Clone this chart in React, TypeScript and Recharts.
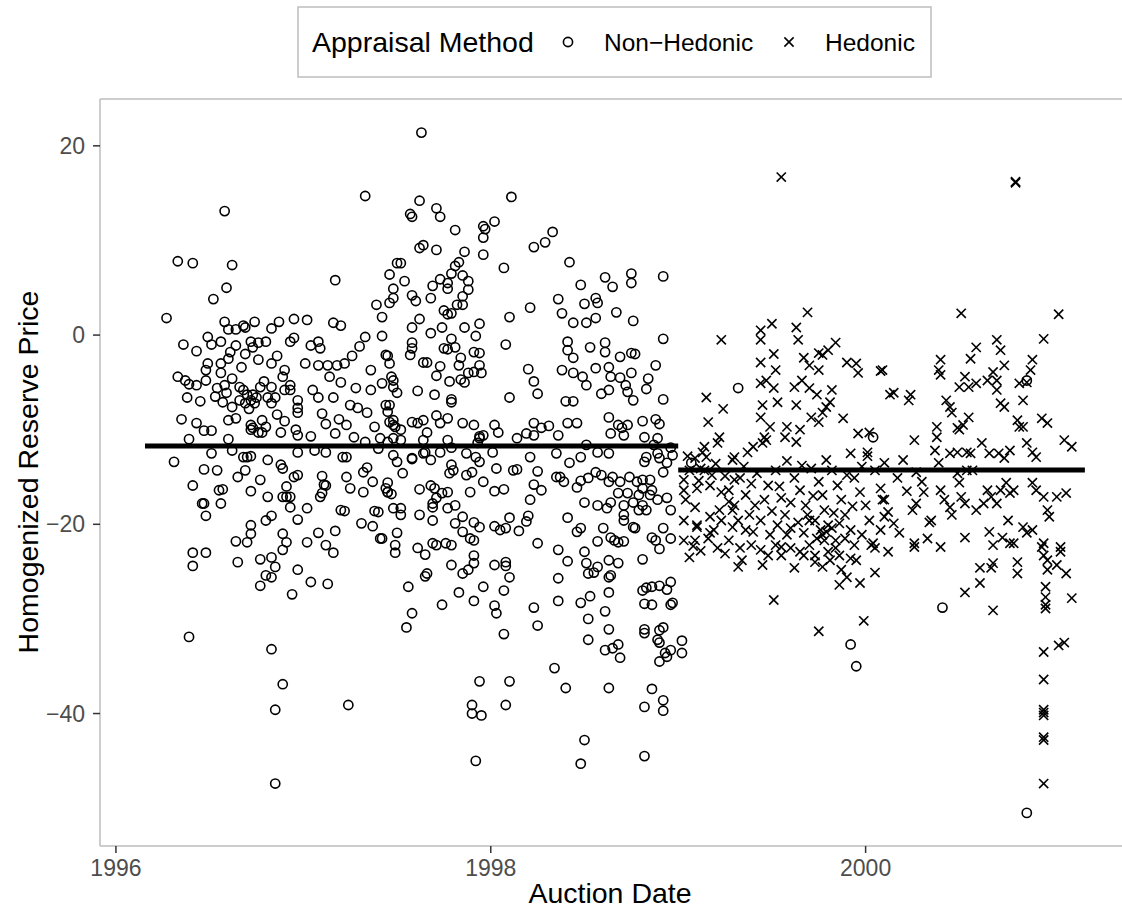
import React from 'react';
import { ScatterChart, Scatter, XAxis, YAxis, ReferenceLine } from 'recharts';

// [auction date, homogenized reserve price]
const nonHedonic1996: [number, number][] = [
  [1996.27, 1.8], [1996.33, 7.8], [1996.41, 7.6], [1996.58, 13.1], [1996.62, 7.4], [1996.59, 5.0], [1996.52, 3.8],
  [1996.58, 1.4], [1996.6, 0.6], [1996.64, 0.6], [1996.68, 1.0], [1996.69, 0.8], [1996.74, 1.4], [1996.83, 0.7], [1996.87, 1.4], [1996.95, 1.7],
  [1996.36, -1.0], [1996.43, -1.7], [1996.49, -0.2], [1996.51, -1.0], [1996.56, -0.7], [1996.61, -1.8], [1996.64, -1.1], [1996.72, -0.7],
  [1996.73, -1.3], [1996.76, -0.8], [1996.8, -0.7], [1996.93, -0.7], [1996.95, -0.3],
  [1996.33, -4.4], [1996.37, -4.8], [1996.39, -5.2], [1996.43, -5.3], [1996.48, -3.7], [1996.48, -4.8], [1996.56, -4.0], [1996.54, -5.6],
  [1996.58, -5.3], [1996.59, -6.1], [1996.6, -9.0], [1996.57, -7.1], [1996.62, -7.6], [1996.68, -5.8], [1996.7, -6.3], [1996.72, -6.9],
  [1996.74, -7.2], [1996.69, -7.2], [1996.77, -5.5], [1996.83, -5.5], [1996.85, -6.6], [1996.89, -4.4], [1996.9, -5.8], [1996.97, -6.9],
  [1996.97, -7.7], [1996.97, -8.2], [1996.49, -3.0], [1996.56, -3.0], [1996.67, -3.4], [1996.83, -3.0], [1996.9, -3.7],
  [1996.66, -5.5], [1996.73, -6.3], [1996.75, -6.6], [1996.71, -7.8], [1996.78, -9.0], [1996.8, -9.7], [1996.72, -9.5], [1996.73, -9.8],
  [1996.81, -6.6], [1996.83, -7.2], [1996.93, -5.3], [1996.93, -5.8],
  [1996.62, -4.6], [1996.66, -6.9], [1996.79, -4.9], [1996.86, -8.4], [1996.9, -9.1], [1996.64, -8.8], [1996.53, -6.5], [1996.45, -7.0],
  [1996.38, -6.6], [1996.35, -8.9], [1996.86, -2.2], [1996.76, -2.6], [1996.69, -2.0], [1996.6, -2.5],
  [1996.31, -13.4], [1996.41, -15.9], [1996.47, -14.2], [1996.54, -14.3], [1996.55, -16.4], [1996.57, -16.3], [1996.46, -17.8],
  [1996.47, -17.8], [1996.56, -17.8], [1996.48, -19.1], [1996.41, -23.0], [1996.48, -23.0], [1996.41, -24.4], [1996.65, -15.0],
  [1996.69, -14.3], [1996.72, -16.5], [1996.77, -15.3], [1996.81, -17.1], [1996.72, -20.1], [1996.72, -21.0], [1996.64, -21.8],
  [1996.7, -21.9], [1996.8, -19.6], [1996.83, -19.1], [1996.65, -24.0], [1996.77, -23.7], [1996.83, -23.5], [1996.85, -24.5],
  [1996.83, -25.6], [1996.8, -25.4], [1996.77, -26.5], [1996.89, -22.7], [1996.91, -21.9], [1996.89, -21.0], [1996.97, -19.5],
  [1996.94, -27.4], [1996.97, -24.8], [1996.95, -15.0], [1996.97, -14.8], [1996.91, -16.0], [1996.89, -17.1], [1996.91, -17.1],
  [1996.93, -17.1], [1996.93, -18.2], [1996.97, -12.4], [1996.88, -13.7], [1996.89, -14.1], [1996.81, -13.2], [1996.7, -12.9],
  [1996.72, -12.8], [1996.68, -12.9], [1996.62, -12.2], [1996.51, -12.5], [1996.39, -11.0], [1996.43, -9.3], [1996.47, -10.1],
  [1996.51, -10.1], [1996.6, -11.0], [1996.72, -10.0], [1996.76, -10.3], [1996.78, -10.3], [1996.88, -10.3], [1996.96, -10.0],
  [1996.97, -10.6], [1996.39, -31.9], [1996.83, -33.2], [1996.89, -36.9], [1996.85, -39.6], [1996.85, -47.4],
];

const nonHedonic1997: [number, number][] = [
  [1997.02, 1.6], [1997.16, 1.3], [1997.2, 1.0], [1997.33, -0.2], [1997.42, -0.1], [1997.44, -2.1], [1997.04, -1.1], [1997.08, -0.7],
  [1997.09, -1.4], [1997.33, 14.7], [1997.17, 5.8], [1997.46, 6.4], [1997.48, 4.9], [1997.39, 3.2], [1997.42, 1.9], [1997.46, 3.4],
  [1997.5, 7.6], [1997.05, -5.8], [1997.08, -6.6], [1997.16, -6.6], [1997.28, -5.6], [1997.25, -7.4], [1997.29, -7.7], [1997.36, -5.8],
  [1997.34, -8.2], [1997.38, -9.7], [1997.42, -5.1], [1997.46, -7.4], [1997.48, -9.0], [1997.49, -9.7], [1997.01, -3.0], [1997.08, -3.2],
  [1997.13, -3.2], [1997.18, -3.2], [1997.22, -3.0], [1997.36, -3.7],
  [1997.14, -4.4], [1997.2, -5.0], [1997.26, -2.2], [1997.3, -1.2], [1997.1, -8.3], [1997.19, -8.9], [1997.27, -10.8], [1997.33, -11.3],
  [1997.4, -12.0], [1997.04, -10.7],
  [1997.04, -26.1], [1997.13, -26.3], [1997.16, -23.0], [1997.12, -22.2], [1997.08, -20.9], [1997.17, -20.7], [1997.02, -21.9],
  [1997.02, -18.3], [1997.09, -17.1], [1997.1, -16.7], [1997.11, -15.8], [1997.12, -15.9], [1997.1, -14.9], [1997.2, -18.5],
  [1997.22, -18.6], [1997.23, -15.0], [1997.25, -16.2], [1997.32, -16.6], [1997.31, -19.9], [1997.37, -20.2], [1997.38, -18.6],
  [1997.4, -18.7], [1997.32, -14.5], [1997.34, -14.0], [1997.37, -15.5], [1997.44, -16.2], [1997.45, -16.6], [1997.47, -16.8],
  [1997.41, -21.5], [1997.42, -21.5], [1997.49, -22.2], [1997.49, -23.0], [1997.21, -12.9], [1997.23, -12.9], [1997.12, -12.4],
  [1997.17, -10.4], [1997.12, -9.4], [1997.23, -9.5], [1997.06, -12.2], [1997.24, -39.1],
  [1997.63, 21.4], [1997.62, 14.2], [1997.57, 12.8], [1997.58, 12.5], [1997.71, 13.4], [1997.73, 12.5], [1997.81, 11.1], [1997.96, 11.5],
  [1997.97, 11.2], [1997.96, 10.3], [1997.96, 8.5], [1997.86, 8.8], [1997.83, 7.7], [1997.81, 7.3], [1997.71, 9.0], [1997.62, 9.2],
  [1997.64, 9.5], [1997.52, 7.6], [1997.48, 3.9], [1997.54, 5.7], [1997.58, 4.2], [1997.6, 3.6], [1997.68, 3.9], [1997.69, 5.2],
  [1997.73, 5.9], [1997.79, 6.5], [1997.77, 5.5], [1997.77, 4.9], [1997.85, 6.3], [1997.88, 5.7], [1997.88, 4.8], [1997.85, 4.1],
  [1997.75, 2.6], [1997.77, 2.2], [1997.79, 2.3], [1997.82, 3.2], [1997.85, 3.2], [1997.62, 1.7], [1997.58, 0.8], [1997.68, 0.2],
  [1997.74, 0.8], [1997.86, 0.8], [1997.94, 1.2], [1997.92, -0.1],
  [1997.47, -4.4], [1997.48, -4.8], [1997.48, -5.5], [1997.5, -6.1], [1997.44, -7.4], [1997.45, -8.1], [1997.46, -9.2], [1997.48, -9.5],
  [1997.52, -10.0], [1997.61, -5.9], [1997.7, -6.3], [1997.79, -6.8], [1997.79, -7.1], [1997.71, -8.5], [1997.77, -8.8], [1997.73, -9.3],
  [1997.64, -9.0], [1997.61, -9.3], [1997.58, -9.2], [1997.85, -9.3], [1997.66, -10.3], [1997.58, -0.8], [1997.58, -1.4], [1997.57, -2.1],
  [1997.64, -2.9], [1997.66, -2.9], [1997.73, -3.3], [1997.71, -4.3], [1997.78, -4.9], [1997.84, -4.7], [1997.86, -5.0], [1997.88, -4.0],
  [1997.91, -3.9], [1997.95, -4.0], [1997.94, -3.2], [1997.84, -2.4], [1997.83, -3.2], [1997.81, -1.3], [1997.91, -1.8], [1997.94, -1.9],
  [1997.79, -0.4], [1997.75, -1.4], [1997.77, -1.5], [1997.45, -2.2], [1997.46, -3.0], [1997.91, -9.5], [1997.94, -10.7], [1997.96, -10.6],
  [1997.48, -12.7], [1997.5, -13.4], [1997.58, -13.0], [1997.53, -14.6], [1997.45, -15.6], [1997.45, -16.6], [1997.48, -18.3],
  [1997.52, -18.3], [1997.52, -19.0], [1997.5, -20.9], [1997.62, -16.3], [1997.62, -19.0], [1997.68, -15.9], [1997.7, -16.2],
  [1997.74, -16.7], [1997.77, -16.6], [1997.69, -17.8], [1997.69, -18.2], [1997.71, -17.2], [1997.69, -19.6], [1997.77, -18.3],
  [1997.81, -18.0], [1997.61, -22.5], [1997.65, -23.2], [1997.69, -22.0], [1997.71, -22.2], [1997.76, -22.0], [1997.79, -22.2],
  [1997.66, -25.2], [1997.65, -25.5], [1997.56, -26.6], [1997.58, -29.4], [1997.55, -30.9], [1997.74, -28.5], [1997.79, -24.3],
  [1997.83, -27.2], [1997.85, -25.2], [1997.88, -24.8], [1997.91, -24.1], [1997.91, -23.3], [1997.81, -19.9], [1997.85, -20.8],
  [1997.89, -21.5], [1997.91, -21.7], [1997.85, -19.2], [1997.91, -19.8], [1997.94, -20.3], [1997.89, -16.6], [1997.96, -15.5],
  [1997.96, -26.6], [1997.91, -28.1], [1997.94, -13.4], [1997.92, -12.9], [1997.9, -14.5], [1997.87, -14.8], [1997.79, -13.7],
  [1997.8, -14.3], [1997.78, -14.6], [1997.68, -13.2], [1997.64, -12.5], [1997.58, -13.1], [1997.94, -10.9], [1997.93, -11.4],
  [1997.87, -12.5], [1997.77, -11.1], [1997.79, -11.9], [1997.73, -12.4], [1997.65, -12.4], [1997.64, -11.1], [1997.52, -11.1],
  [1997.48, -10.9], [1997.45, -11.3], [1997.41, -10.9], [1997.94, -36.6], [1997.9, -39.1], [1997.9, -40.0], [1997.95, -40.2],
  [1997.92, -45.0],
];

const nonHedonic1998: [number, number][] = [
  [1998.11, 14.6], [1998.02, 12.0], [1998.07, 7.1], [1998.1, 1.9], [1998.21, 2.9], [1998.08, -1.0], [1998.29, 9.8], [1998.23, 9.3],
  [1998.33, 10.9], [1998.42, 7.7], [1998.48, 5.3], [1998.36, 3.8], [1998.38, 2.3], [1998.44, 1.3], [1998.5, 3.3], [1998.56, 3.9],
  [1998.57, 3.4], [1998.51, 1.3], [1998.56, 1.8], [1998.61, 6.1], [1998.65, 5.1], [1998.67, 2.4], [1998.75, 6.5], [1998.75, 5.5],
  [1998.76, 1.5], [1998.92, 6.2], [1998.92, -0.4], [1998.41, -0.7], [1998.41, -1.6], [1998.44, -2.4], [1998.38, -3.7], [1998.44, -4.0],
  [1998.53, -1.3], [1998.61, -0.8], [1998.61, -1.8], [1998.69, -2.3], [1998.75, -1.9], [1998.77, -2.0], [1998.63, -3.4], [1998.64, -4.4],
  [1998.56, -3.5], [1998.49, -4.4], [1998.51, -5.3], [1998.69, -4.5], [1998.72, -5.3], [1998.75, -4.0], [1998.84, -4.6], [1998.88, -3.2],
  [1998.83, -5.7], [1998.92, -6.8], [1998.73, -6.0], [1998.76, -6.9], [1998.63, -5.8], [1998.59, -6.2], [1998.2, -3.6], [1998.23, -4.9],
  [1998.25, -6.2], [1998.1, -6.6], [1998.4, -7.0], [1998.44, -7.0], [1998.63, -8.7], [1998.68, -9.5], [1998.7, -9.8], [1998.73, -9.5],
  [1998.81, -9.1], [1998.88, -8.9], [1998.9, -9.4], [1998.23, -9.3], [1998.31, -9.6], [1998.27, -9.8], [1998.41, -9.3], [1998.46, -9.3],
  [1998.02, -9.5], [1998.04, -10.3],
  [1998.02, -16.5], [1998.07, -16.3], [1998.02, -20.2], [1998.05, -20.6], [1998.08, -20.4], [1998.1, -19.3], [1998.15, -20.7],
  [1998.19, -19.7], [1998.2, -19.1], [1998.02, -24.3], [1998.08, -24.0], [1998.08, -24.4], [1998.1, -25.6], [1998.07, -27.0],
  [1998.02, -28.6], [1998.03, -29.4], [1998.07, -31.6], [1998.23, -28.8], [1998.25, -30.7], [1998.25, -22.0], [1998.21, -17.4],
  [1998.23, -15.8], [1998.27, -16.4], [1998.21, -12.9], [1998.25, -14.4], [1998.36, -22.7], [1998.41, -23.9], [1998.36, -25.7],
  [1998.36, -28.1], [1998.41, -19.3], [1998.46, -20.8], [1998.48, -20.4], [1998.5, -17.7], [1998.57, -18.0], [1998.62, -18.3],
  [1998.64, -17.7], [1998.6, -20.4], [1998.57, -21.8], [1998.64, -21.4], [1998.66, -21.7], [1998.68, -21.9], [1998.71, -21.8],
  [1998.5, -22.9], [1998.51, -24.1], [1998.52, -25.2], [1998.55, -25.1], [1998.57, -24.5], [1998.48, -28.3], [1998.53, -27.6],
  [1998.52, -30.0], [1998.52, -32.2], [1998.61, -29.2], [1998.63, -27.2], [1998.63, -25.6], [1998.64, -25.4], [1998.63, -23.8],
  [1998.68, -24.1], [1998.63, -31.1], [1998.61, -33.3], [1998.65, -33.1], [1998.68, -32.7], [1998.69, -34.1], [1998.71, -18.0],
  [1998.71, -19.0], [1998.71, -19.6], [1998.76, -20.3], [1998.77, -20.4], [1998.81, -23.7], [1998.81, -27.0], [1998.83, -26.7],
  [1998.86, -26.6], [1998.9, -26.5], [1998.94, -26.9], [1998.96, -26.1], [1998.82, -28.4], [1998.86, -28.5], [1998.96, -28.5],
  [1998.97, -28.3], [1998.82, -31.1], [1998.82, -31.5], [1998.9, -31.2], [1998.92, -30.9], [1998.89, -32.2], [1998.9, -32.5],
  [1998.96, -33.3], [1998.93, -33.6], [1998.94, -34.0], [1998.9, -34.5], [1999.02, -32.3], [1999.02, -33.6], [1998.86, -21.4],
  [1998.88, -21.7], [1998.92, -20.4], [1998.96, -21.5], [1998.9, -22.6], [1998.94, -17.2], [1998.96, -18.5], [1998.89, -17.4],
  [1998.83, -18.5], [1998.85, -16.9], [1998.81, -18.0], [1998.79, -18.5], [1998.81, -16.2], [1998.86, -16.4], [1998.79, -16.9],
  [1998.76, -17.7], [1998.73, -16.7], [1998.69, -15.5], [1998.68, -16.7], [1998.65, -15.0], [1998.63, -15.5], [1998.59, -14.8],
  [1998.56, -14.5], [1998.52, -15.1], [1998.48, -15.4], [1998.46, -16.1], [1998.39, -15.5], [1998.37, -15.0], [1998.35, -15.0],
  [1998.42, -13.5], [1998.48, -12.9], [1998.35, -12.5], [1998.12, -14.3], [1998.14, -14.2], [1998.03, -14.1], [1998.97, -12.7],
  [1998.94, -13.5], [1998.92, -14.5], [1998.83, -12.9], [1998.82, -13.4], [1998.9, -13.0], [1998.89, -12.5], [1998.81, -15.3],
  [1998.85, -15.3], [1998.78, -15.5], [1998.74, -15.0], [1998.51, -11.6], [1998.57, -12.4], [1998.63, -12.5], [1998.71, -10.6],
  [1998.64, -10.4], [1998.82, -10.8], [1998.87, -11.6], [1998.89, -10.9], [1998.96, -11.9], [1998.36, -10.6], [1998.23, -10.6],
  [1998.19, -10.4], [1998.14, -10.9], [1998.01, -12.4],
  [1998.1, -36.6], [1998.08, -39.1], [1998.34, -35.2], [1998.4, -37.3], [1998.5, -42.8], [1998.48, -45.3], [1998.63, -37.3],
  [1998.86, -37.4], [1998.82, -39.3], [1998.92, -38.6], [1998.92, -39.7], [1998.82, -44.5],
];

const nonHedonicLate: [number, number][] = [
  [1999.07, -13.5], [1999.32, -5.6], [1999.92, -32.7], [1999.95, -35.0], [2000.04, -10.8], [2000.41, -28.8], [2000.86, -4.8], [2000.86, -50.5],
];

const hedonic1999: [number, number][] = [
  [1999.55, 16.7], [1999.69, 2.4], [1999.5, 1.2], [1999.44, 0.5], [1999.44, -0.5], [1999.63, 0.8], [1999.64, -0.5], [1999.23, -0.5],
  [1999.51, -2.0], [1999.52, -3.7], [1999.44, -2.9], [1999.44, -5.1], [1999.47, -4.8], [1999.51, -5.6], [1999.45, -7.4], [1999.44, -8.7],
  [1999.53, -7.1], [1999.67, -2.4], [1999.7, -3.2], [1999.75, -1.9], [1999.77, -2.1], [1999.8, -1.6], [1999.84, -0.8], [1999.75, -3.7],
  [1999.9, -2.9], [1999.95, -3.0], [1999.96, -4.0], [1999.15, -6.6], [1999.24, -7.8], [1999.16, -9.2], [1999.66, -4.8], [1999.62, -5.5],
  [1999.7, -5.6], [1999.74, -6.3], [1999.63, -7.4], [1999.82, -5.8], [1999.81, -7.1], [1999.79, -7.6], [1999.71, -8.7], [1999.75, -9.2],
  [1999.77, -8.2], [1999.88, -8.8], [1999.96, -10.4], [1999.92, -12.5], [1999.58, -9.7], [1999.57, -10.8], [1999.65, -10.0],
  [1999.63, -11.3], [1999.49, -9.7], [1999.46, -10.8], [1999.45, -11.4], [1999.47, -11.1], [1999.4, -11.8], [1999.37, -12.4],
  [1999.3, -12.9], [1999.29, -13.2], [1999.22, -10.8], [1999.21, -11.4], [1999.14, -11.8], [1999.13, -12.4], [1999.15, -12.9],
  [1999.09, -18.2], [1999.17, -19.2], [1999.1, -20.3], [1999.17, -20.9], [1999.09, -21.7], [1999.22, -18.5], [1999.29, -18.5],
  [1999.29, -20.3], [1999.12, -14.1], [1999.18, -14.8], [1999.1, -16.2], [1999.23, -16.6], [1999.33, -15.1], [1999.36, -16.9],
  [1999.41, -18.0], [1999.44, -19.6], [1999.48, -15.9], [1999.52, -14.3], [1999.55, -17.2], [1999.57, -19.0], [1999.6, -20.4],
  [1999.62, -15.1], [1999.65, -16.4], [1999.68, -18.0], [1999.7, -19.6], [1999.71, -14.1], [1999.75, -15.5], [1999.77, -16.9],
  [1999.78, -18.5], [1999.8, -20.1], [1999.82, -14.3], [1999.85, -15.9], [1999.87, -17.4], [1999.89, -19.0], [1999.92, -20.6],
  [1999.94, -15.1], [1999.97, -16.6], [1999.03, -19.6], [1999.03, -21.7], [1999.08, -22.3], [1999.16, -21.5], [1999.21, -22.5],
  [1999.27, -21.7], [1999.33, -22.5], [1999.39, -22.2], [1999.34, -23.8], [1999.44, -22.7], [1999.48, -23.3], [1999.52, -22.2],
  [1999.55, -23.3], [1999.6, -22.5], [1999.65, -22.9], [1999.7, -22.2], [1999.73, -23.3], [1999.78, -21.7], [1999.84, -22.5],
  [1999.89, -21.5], [1999.94, -22.2], [1999.98, -21.1], [1999.03, -16.4], [1999.04, -17.4], [1999.32, -24.5], [1999.45, -24.3],
  [1999.51, -28.0], [1999.75, -31.3], [1999.99, -30.2], [1999.86, -26.4], [1999.9, -25.6], [1999.97, -26.2], [1999.55, -22.4],
  [1999.86, -23.3], [1999.92, -23.6], [1999.67, -23.3], [1999.73, -24.0], [1999.77, -24.5], [1999.81, -23.8], [1999.95, -23.8],
  [1999.06, -14.3], [1999.03, -15.3], [1999.09, -13.0], [1999.14, -14.3], [1999.17, -15.9], [1999.1, -20.1], [1999.19, -20.6],
  [1999.23, -19.6], [1999.3, -18.0], [1999.32, -19.6], [1999.36, -20.6], [1999.38, -19.0], [1999.3, -15.3], [1999.27, -16.4],
  [1999.76, -20.6], [1999.77, -21.1], [1999.79, -20.8], [1999.82, -20.4], [1999.84, -21.7], [1999.73, -19.6], [1999.69, -19.0],
  [1999.64, -19.8], [1999.58, -21.1], [1999.53, -20.1], [1999.49, -21.1],
  [1999.05, -12.8], [1999.11, -15.4], [1999.2, -13.6], [1999.25, -14.9], [1999.27, -17.6], [1999.35, -13.9], [1999.39, -15.7],
  [1999.42, -14.6], [1999.46, -17.4], [1999.5, -18.6], [1999.54, -16.0], [1999.58, -13.3], [1999.6, -17.7], [1999.66, -13.8],
  [1999.67, -20.9], [1999.72, -17.0], [1999.74, -21.5], [1999.79, -13.2], [1999.83, -18.8], [1999.86, -19.9], [1999.9, -14.8],
  [1999.93, -18.1], [1999.98, -13.9], [1999.25, -23.1], [1999.4, -20.8], [1999.62, -24.6], [1999.8, -22.9], [1999.87, -24.8],
  [1999.12, -22.8], [1999.06, -23.5],
];

const hedonic2000: [number, number][] = [
  [2000.01, -12.4], [2000.01, -12.8], [2000.02, -10.3], [2000.08, -3.8], [2000.13, -6.3], [2000.0, -18.0], [2000.02, -19.6],
  [2000.05, -14.3], [2000.08, -16.2], [2000.1, -17.4], [2000.12, -18.7], [2000.03, -22.2], [2000.08, -20.6], [2000.05, -25.1],
  [2000.05, -22.5], [2000.12, -22.9], [2000.26, -22.4], [2000.4, -22.4], [2000.04, -22.0],
  [2000.2, -13.2], [2000.3, -15.5], [2000.33, -21.5], [2000.18, -20.9], [2000.22, -16.5],
  [2000.8, 16.2], [2000.8, 16.1], [2000.51, 2.3], [2001.03, 2.2], [2000.95, -0.4], [2000.7, -0.5], [2000.72, -1.6], [2000.59, -1.3],
  [2000.56, -2.5], [2000.74, -3.2], [2000.4, -2.6], [2000.39, -3.7], [2000.4, -4.2], [2000.89, -2.6], [2000.88, -3.7], [2000.68, -3.9],
  [2000.7, -4.8], [2000.7, -5.8], [2000.65, -4.8], [2000.59, -5.1], [2000.53, -4.4], [2000.55, -5.5], [2000.5, -5.5], [2000.82, -5.1],
  [2000.84, -6.9], [2000.86, -5.0], [2000.09, -3.7], [2000.15, -6.1], [2000.24, -6.3], [2000.23, -6.9], [2000.43, -6.9], [2000.45, -7.6],
  [2000.46, -8.2], [2000.72, -7.2], [2000.74, -7.6], [2000.55, -8.7], [2000.52, -9.5], [2000.5, -10.0], [2000.49, -9.8], [2000.81, -9.0],
  [2000.82, -9.7], [2000.84, -9.7], [2000.94, -8.8], [2000.97, -9.3], [2001.06, -11.1], [2001.1, -11.8], [2000.38, -9.7], [2000.38, -10.8],
  [2000.37, -12.2], [2000.26, -11.1], [2000.45, -12.5], [2000.49, -12.4], [2000.54, -12.4], [2000.56, -12.5], [2000.62, -11.4],
  [2000.66, -12.5], [2000.71, -12.5], [2000.74, -13.0], [2000.77, -12.2], [2000.86, -11.4], [2000.89, -12.4], [2000.91, -12.9],
  [2000.39, -13.5], [2000.49, -14.6], [2000.54, -14.3], [2000.57, -14.3], [2000.17, -15.1], [2000.27, -14.5], [2000.1, -13.5],
  [2000.09, -17.4], [2000.1, -19.2], [2000.15, -19.9], [2000.31, -16.6], [2000.25, -18.5], [2000.27, -17.8], [2000.35, -19.6],
  [2000.34, -19.8], [2000.4, -16.4], [2000.42, -17.4], [2000.45, -18.2], [2000.46, -19.0], [2000.5, -15.6], [2000.51, -17.1],
  [2000.53, -17.8], [2000.53, -21.4], [2000.59, -18.5], [2000.63, -17.8], [2000.65, -16.4], [2000.67, -17.1], [2000.7, -17.8],
  [2000.72, -16.4], [2000.75, -15.6], [2000.77, -16.7], [2000.79, -16.4], [2000.66, -20.8], [2000.73, -21.4], [2000.76, -19.6],
  [2000.79, -22.0], [2000.84, -20.3], [2000.86, -20.9], [2000.89, -20.6], [2000.89, -15.6], [2000.91, -16.4], [2000.95, -17.1],
  [2000.97, -18.5], [2000.98, -19.2], [2001.02, -17.1], [2001.07, -16.7], [2000.95, -22.0], [2001.04, -22.4], [2000.26, -22.0],
  [2000.68, -29.1], [2000.68, -24.1], [2000.67, -24.6], [2000.61, -24.6], [2000.61, -26.2], [2000.53, -27.2], [2000.81, -24.0],
  [2000.81, -25.2], [2000.68, -22.2], [2000.77, -22.0], [2000.95, -33.5], [2000.95, -36.4], [2000.95, -39.6], [2000.95, -40.2],
  [2000.95, -39.9], [2000.95, -42.5], [2000.95, -42.8], [2000.95, -47.4], [2001.03, -32.8], [2001.06, -32.5], [2001.1, -27.8],
  [2000.96, -28.5], [2000.96, -28.9], [2000.96, -27.7], [2000.96, -26.6], [2001.07, -25.2], [2001.04, -22.9], [2001.02, -24.3],
  [2000.97, -23.8], [2000.97, -24.8], [2000.94, -22.4], [2000.95, -23.3],
];

// group means, drawn as horizontal segments over each group's date span
const nonHedonicMean = { from: 1996.155, to: 1999.0, level: -11.73 };
const hedonicMean = { from: 1999.0, to: 2001.17, level: -14.27 };

const xTicks = [1996, 1998, 2000];
const yTicks = [-40, -20, 0, 20];
const X_DOMAIN: [number, number] = [1995.915, 2001.432];
const Y_DOMAIN: [number, number] = [-54.0, 24.95];

const toPoints = (rows: [number, number][]) => rows.map(([date, value]) => ({ date, value }));
const nonHedonicData = toPoints([...nonHedonic1996, ...nonHedonic1997, ...nonHedonic1998, ...nonHedonicLate]);
const hedonicData = toPoints([...hedonic1999, ...hedonic2000]);

const FONT = "'Liberation Sans', Arial, Helvetica, sans-serif";
const R = 4.6;
const SW = 1.6;

const OpenCircle = (props: any) => {
  const { cx, cy } = props;
  if (cx == null || cy == null) return null;
  return <circle cx={cx} cy={cy} r={R} fill="none" stroke="#000" strokeWidth={SW} />;
};

const Cross = (props: any) => {
  const { cx, cy } = props;
  if (cx == null || cy == null) return null;
  return (
    <g stroke="#000" strokeWidth={SW}>
      <line x1={cx - R} y1={cy - R} x2={cx + R} y2={cy + R} />
      <line x1={cx - R} y1={cy + R} x2={cx + R} y2={cy - R} />
    </g>
  );
};

const fmtY = (v: number) => (v < 0 ? '\u2212' + Math.abs(v) : String(v));

const Legend = () => (
  <svg width={1122} height={90} style={{ position: 'absolute', left: 0, top: 0 }}>
    <rect x={298} y={7} width={633} height={70} fill="#fff" stroke="#BDBDBD" strokeWidth={1.5} />
    <text x={312} y={52} fontSize={28.5} fontFamily={FONT} fill="#000">Appraisal Method</text>
    <circle cx={568} cy={42} r={R} fill="none" stroke="#000" strokeWidth={SW} />
    <text x={604} y={51} fontSize={24.5} fontFamily={FONT} fill="#000">Non{'\u2212'}Hedonic</text>
    <g stroke="#000" strokeWidth={SW}>
      <line x1={789 - R} y1={42 - R} x2={789 + R} y2={42 + R} />
      <line x1={789 - R} y1={42 + R} x2={789 + R} y2={42 - R} />
    </g>
    <text x={825} y={51} fontSize={24.5} fontFamily={FONT} fill="#000">Hedonic</text>
  </svg>
);

const App: React.FC = () => {
  return (
    <div style={{ position: 'absolute', left: 0, top: 0, width: 1122, height: 914, overflow: 'hidden', background: '#fff' }}>
      <ScatterChart width={1140} height={914} margin={{ top: 99, right: 6, bottom: 0, left: 0 }}>
        <XAxis
          type="number"
          dataKey="date"
          domain={X_DOMAIN}
          ticks={xTicks}
          interval={0}
          allowDataOverflow
          height={68}
          tickSize={7}
          tickMargin={7}
          tickFormatter={(v: number) => String(v)}
          axisLine={{ stroke: '#BDBDBD', strokeWidth: 1.5 }}
          tickLine={{ stroke: '#333', strokeWidth: 1.5 }}
          tick={{ fill: '#4D4D4D', fontSize: 23, fontFamily: FONT }}
        />
        <YAxis
          type="number"
          dataKey="value"
          domain={Y_DOMAIN}
          ticks={yTicks}
          interval={0}
          allowDataOverflow
          width={100}
          tickSize={7}
          tickMargin={8}
          tickFormatter={fmtY}
          axisLine={{ stroke: '#BDBDBD', strokeWidth: 1.5 }}
          tickLine={{ stroke: '#333', strokeWidth: 1.5 }}
          tick={{ fill: '#4D4D4D', fontSize: 23, fontFamily: FONT }}
        />
        <ReferenceLine y={Y_DOMAIN[1]} stroke="#BDBDBD" strokeWidth={1.5} />
        <Scatter data={nonHedonicData} shape={OpenCircle} isAnimationActive={false} />
        <Scatter data={hedonicData} shape={Cross} isAnimationActive={false} />
        <ReferenceLine
          segment={[{ x: nonHedonicMean.from, y: nonHedonicMean.level }, { x: nonHedonicMean.to, y: nonHedonicMean.level }]}
          stroke="#000"
          strokeWidth={5}
        />
        <ReferenceLine
          segment={[{ x: hedonicMean.from, y: hedonicMean.level }, { x: hedonicMean.to, y: hedonicMean.level }]}
          stroke="#000"
          strokeWidth={5}
        />
      </ScatterChart>
      <Legend />
      <div
        style={{
          position: 'absolute', left: 28, top: 472, transform: 'translate(-50%, -50%) rotate(-90deg)',
          whiteSpace: 'nowrap', fontFamily: FONT, fontSize: 28.5, color: '#000', lineHeight: 1,
        }}
      >
        Homogenized Reserve Price
      </div>
      <div
        style={{
          position: 'absolute', left: 610, top: 879, transform: 'translateX(-50%)',
          whiteSpace: 'nowrap', fontFamily: FONT, fontSize: 28.5, color: '#000', lineHeight: 1,
        }}
      >
        Auction Date
      </div>
    </div>
  );
};

export default App;
